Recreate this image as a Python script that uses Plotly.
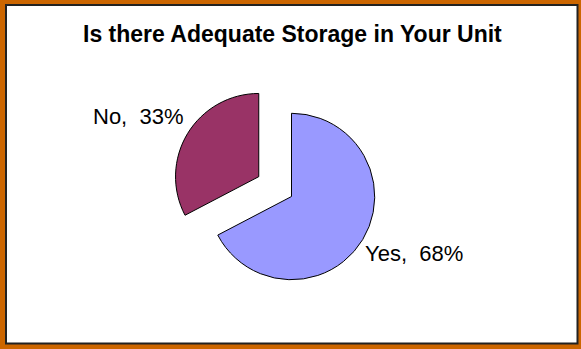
import plotly.graph_objects as go

labels = ["Yes", "No"]
values = [68, 33]
pct_text = ["68%", "33%"]
colors = ["#9999FF", "#993366"]
pulls = [0, 0.46]
title = "Is there Adequate Storage in Your Unit"

W, H = 581, 349
cx, cy, half = 291.5, 196.5, 121.5

# label anchor positions (pixels from top-left) and anchors
label_pos = [(363, 253, "left"), (186, 116, "right")]

fig = go.Figure()
fig.add_trace(go.Pie(
    labels=labels,
    values=values,
    textinfo="none",
    sort=False,
    direction="clockwise",
    rotation=0,
    pull=pulls,
    marker=dict(colors=colors, line=dict(color="black", width=1)),
    showlegend=False,
    domain=dict(x=[(cx - half) / W, (cx + half) / W], y=[1 - (cy + half) / H, 1 - (cy - half) / H]),
    hoverinfo="skip",
))

annotations = [dict(text="<b>" + title + "</b>", x=(292.5) / W, y=1 - 34 / H, xref="paper", yref="paper",
                    showarrow=False, xanchor="center", yanchor="middle",
                    font=dict(family="Liberation Sans, Arial", size=23, color="black"))]
for lab, pt, (px, py, anc) in zip(labels, pct_text, label_pos):
    annotations.append(dict(text=f"{lab},  {pt}", x=px / W, y=1 - py / H, xref="paper", yref="paper",
                            showarrow=False, xanchor=anc, yanchor="middle",
                            font=dict(family="Liberation Sans, Arial", size=22, color="black")))

fig.update_layout(
    width=W, height=H,
    margin=dict(l=0, r=0, t=0, b=0),
    paper_bgcolor="#CC6600",
    plot_bgcolor="white",
    shapes=[dict(type="rect", xref="paper", yref="paper",
                 x0=6 / W, x1=577.5 / W, y0=1 - 343.5 / H, y1=1 - 5 / H,
                 fillcolor="white", line=dict(color="#222222", width=2), layer="below")],
    annotations=annotations,
)

fig.write_html("out.html")
